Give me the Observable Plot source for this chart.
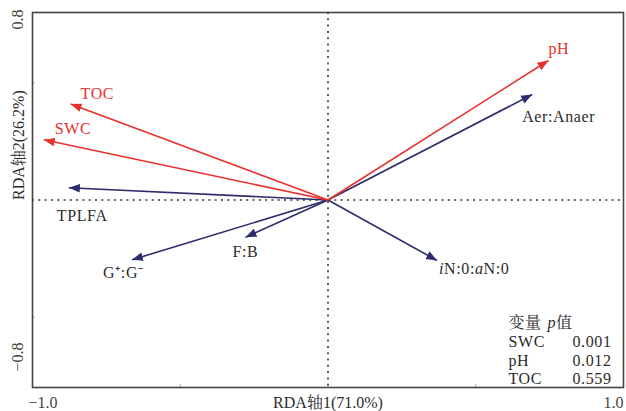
<!DOCTYPE html>
<html><head><meta charset="utf-8">
<script src="https://cdn.jsdelivr.net/npm/d3@7"></script>
<script src="https://cdn.jsdelivr.net/npm/@observablehq/plot@0.6"></script>
<style>
body{margin:0;background:#fff}
#chart{position:relative;width:626px;height:411px}
</style>
</head><body><div id="chart"></div>
<script>
// ---- data ----
const arrowNames = ["Aer:Anaer","iN:0:aN:0","TPLFA","F:B","G⁺:G⁻","pH","SWC","TOC"];
const arrowX = [0.691, 0.369, -0.877, -0.279, -0.663, 0.746, -0.962, -0.871];
const arrowY = [0.450, -0.258, 0.052, -0.159, -0.255, 0.595, 0.257, 0.410];
const arrowType = ["micro","micro","micro","micro","micro","env","env","env"];
const xTickLabels = ["−1.0","1.0"];
const yTickLabels = ["0.8","−0.8"];
const xAxisTitle = "RDA轴1(71.0%)";
const yAxisTitle = "RDA轴2(26.2%)";
const tableHeader = ["变量","p值"];
const tableVars = ["SWC","pH","TOC"];
const tablePValues = ["0.001","0.012","0.559"];

// ---- styles ----
const RED = "#e8302c", NAVY = "#2d2c6c", TXT = "#2b2b2b", TICKTXT = "#444";
const FONT = "'Liberation Serif','Times New Roman','Noto Serif CJK SC','Noto Sans CJK SC',serif";
const labelOffset = {
  "pH":[0,-11.5], "Aer:Anaer":[-10,22], "iN:0:aN:0":[2,8], "TOC":[10,-10],
  "SWC":[11,-11], "TPLFA":[-12,28], "F:B":[-13,15], "G⁺:G⁻":[-29,13]
};

const arrows = arrowNames.map((n,i)=>({name:n, x:arrowX[i], y:arrowY[i], type:arrowType[i]}));

function triangleMarker(color, context) {
  const doc = (context && context.document) || document;
  const ns = "http://www.w3.org/2000/svg";
  const m = doc.createElementNS(ns, "marker");
  m.setAttribute("viewBox", "-11 -5 12 10");
  m.setAttribute("markerWidth", 12);
  m.setAttribute("markerHeight", 10);
  m.setAttribute("markerUnits", "userSpaceOnUse");
  m.setAttribute("refX", 0);
  m.setAttribute("refY", 0);
  m.setAttribute("orient", "auto");
  const p = doc.createElementNS(ns, "path");
  p.setAttribute("d", "M-11,-4.3L0,0L-11,4.3Z");
  p.setAttribute("fill", color);
  p.setAttribute("stroke", "none");
  m.appendChild(p);
  return m;
}

function build(marker) {
  const marks = [
    Plot.ruleY([0], {stroke:"#333", strokeWidth:1.6, strokeDasharray:"2,4.3"}),
    Plot.ruleX([0], {stroke:"#333", strokeWidth:1.6, strokeDasharray:"2,4.3"}),
    Plot.axisX([-0.5, 0.5], {tickSize:-3, stroke:"#aaa", tickFormat:()=>"", label:null}),
    Plot.axisY([-0.5, 0.5], {tickSize:-3, stroke:"#aaa", tickFormat:()=>"", label:null}),
    Plot.link(arrows.filter(d=>d.type==="micro"), {x1:0, y1:0, x2:"x", y2:"y", stroke:NAVY, strokeWidth:1.6, markerEnd:marker}),
    Plot.link(arrows.filter(d=>d.type==="env"), {x1:0, y1:0, x2:"x", y2:"y", stroke:RED, strokeWidth:1.6, markerEnd:marker}),
    Plot.frame({stroke:"#444", strokeWidth:1.6}),
    // tick labels
    Plot.text([xTickLabels[0]], {text:d=>d, frameAnchor:"bottom-left", textAnchor:"start", dx:-4, dy:15, lineAnchor:"middle", fontSize:16, fill:TICKTXT}),
    Plot.text([xTickLabels[1]], {text:d=>d, frameAnchor:"bottom-right", textAnchor:"end", dx:0, dy:15, lineAnchor:"middle", fontSize:16, fill:TICKTXT}),
    Plot.text([yTickLabels[0]], {text:d=>d, frameAnchor:"top-left", textAnchor:"end", rotate:-90, dx:-15, dy:-3, lineAnchor:"middle", fontSize:16, fill:TICKTXT}),
    Plot.text([yTickLabels[1]], {text:d=>d, frameAnchor:"bottom-left", textAnchor:"start", rotate:-90, dx:-15, dy:-16, lineAnchor:"middle", fontSize:16, fill:TICKTXT}),
    // axis titles
    Plot.text([xAxisTitle], {text:d=>d, frameAnchor:"bottom", dy:15, lineAnchor:"middle", fontSize:16, fill:TXT}),
    Plot.text([yAxisTitle], {text:d=>d, frameAnchor:"left", dx:-14, rotate:-90, lineAnchor:"middle", fontSize:16, fill:TXT}),
  ];
  // arrow labels
  arrows.forEach(d => {
    const [dx, dy] = labelOffset[d.name];
    marks.push(Plot.text([d], {x:"x", y:"y", text:"name", dx, dy, textAnchor:"start", lineAnchor:"middle",
      fontSize:16, fill: d.type==="env" ? RED : TXT}));
  });
  // p-value table
  const rowsY = [310, 329, 348, 366];
  const tOpt = {text:d=>d, frameAnchor:"top-left", textAnchor:"start", lineAnchor:"middle", fontSize:16, fill:TXT};
  marks.push(Plot.text([tableHeader[0]], {...tOpt, dx:476, dy:rowsY[0]}));
  marks.push(Plot.text([tableHeader[1]], {...tOpt, dx:515, dy:rowsY[0]}));
  tableVars.forEach((v,i) => {
    marks.push(Plot.text([v], {...tOpt, dx:476, dy:rowsY[i+1]}));
    marks.push(Plot.text([tablePValues[i]], {...tOpt, dx:540, dy:rowsY[i+1]}));
  });
  return Plot.plot({
    width:626, height:411,
    marginLeft:32, marginRight:3, marginTop:12, marginBottom:24,
    x:{domain:[-1,1], axis:null},
    y:{domain:[-0.8,0.8], axis:null},
    style:{fontFamily:FONT, background:"#fff", overflow:"visible"},
    marks
  });
}

let svg;
try { svg = build(triangleMarker); } catch(e) { svg = build("arrow"); }
document.getElementById("chart").appendChild(svg);

// letter spacing to match the wider type, and mixed-style text (italics)
d3.select(svg).selectAll("text").each(function(){
  const t = d3.select(this);
  const s = this.textContent;
  if (!/RDA|\d\.\d$|^−/.test(s) || /^0\.\d{3}$/.test(s)) t.attr("letter-spacing", "0.6px");
  if (s === "iN:0:aN:0") {
    t.text(null);
    t.append("tspan").attr("font-style","italic").text("i");
    t.append("tspan").text("N:0:");
    t.append("tspan").attr("font-style","italic").text("a");
    t.append("tspan").text("N:0");
  } else if (s === "p值") {
    t.text(null);
    t.append("tspan").attr("font-style","italic").text("p");
    t.append("tspan").text("值");
  }
});
</script>
</body></html>
